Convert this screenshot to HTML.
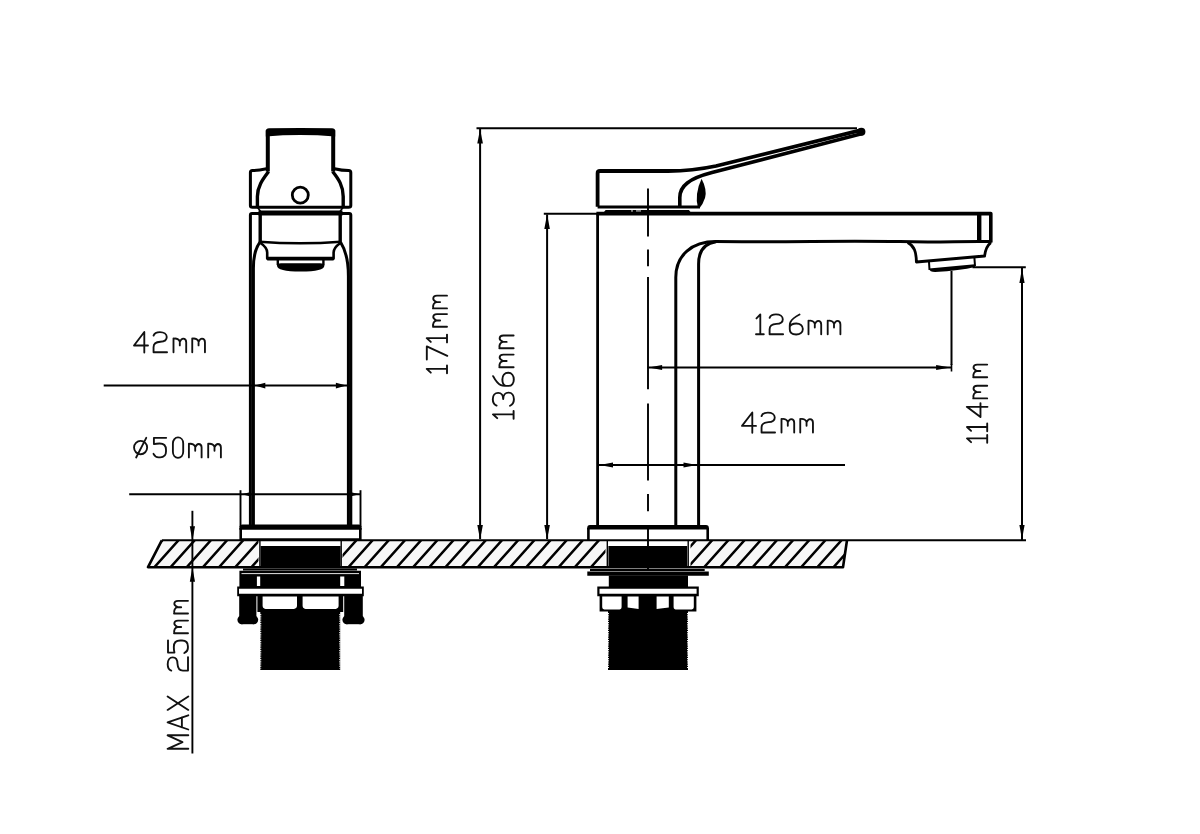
<!DOCTYPE html><html><head><meta charset="utf-8"><style>html,body{margin:0;padding:0;background:#fff;}svg{display:block;}.t path{fill:none;stroke:#111;stroke-width:1.85;stroke-linecap:round;stroke-linejoin:round;}.s{fill:none;stroke:#000;stroke-linecap:butt;stroke-linejoin:round;}.f{fill:#000;stroke:none;}</style></head><body><svg width="1200" height="834" viewBox="0 0 1200 834"><rect width="1200" height="834" fill="#fff"/><defs><clipPath id="cc"><path d="M161.8,540.3 L847,540.3 L843,567.2 L148,567.2 Z M258.5,540.3 L258.5,567.2 L342.5,567.2 L342.5,540.3 Z M605.5,540.3 L605.5,567.2 L690.5,567.2 L690.5,540.3 Z" clip-rule="evenodd"/></clipPath></defs><path fill="#f7f7f7" clip-path="url(#cc)" d="M161.8,540.3 L847,540.3 L843,567.2 L148,567.2 Z"/><path class="s" stroke-width="2.5" clip-path="url(#cc)" d="M135.81,569.90 L164.73,537.60 M151.98,569.90 L180.90,537.60 M168.15,569.90 L197.07,537.60 M184.32,569.90 L213.24,537.60 M200.49,569.90 L229.41,537.60 M216.66,569.90 L245.58,537.60 M232.83,569.90 L261.75,537.60 M249.00,569.90 L277.92,537.60 M265.17,569.90 L294.09,537.60 M281.34,569.90 L310.26,537.60 M297.51,569.90 L326.43,537.60 M313.68,569.90 L342.60,537.60 M329.85,569.90 L358.77,537.60 M346.02,569.90 L374.94,537.60 M362.19,569.90 L391.11,537.60 M378.36,569.90 L407.28,537.60 M394.53,569.90 L423.45,537.60 M410.70,569.90 L439.62,537.60 M426.87,569.90 L455.79,537.60 M443.04,569.90 L471.96,537.60 M459.21,569.90 L488.13,537.60 M475.38,569.90 L504.30,537.60 M491.55,569.90 L520.47,537.60 M507.72,569.90 L536.64,537.60 M523.89,569.90 L552.81,537.60 M540.06,569.90 L568.98,537.60 M556.23,569.90 L585.15,537.60 M572.40,569.90 L601.32,537.60 M588.57,569.90 L617.49,537.60 M604.74,569.90 L633.66,537.60 M620.91,569.90 L649.83,537.60 M637.08,569.90 L666.00,537.60 M653.25,569.90 L682.17,537.60 M669.42,569.90 L698.34,537.60 M685.59,569.90 L714.51,537.60 M701.76,569.90 L730.68,537.60 M717.93,569.90 L746.85,537.60 M734.10,569.90 L763.02,537.60 M750.27,569.90 L779.19,537.60 M766.44,569.90 L795.36,537.60 M782.61,569.90 L811.53,537.60 M798.78,569.90 L827.70,537.60 M814.95,569.90 L843.87,537.60 M831.12,569.90 L860.04,537.60 M847.29,569.90 L876.21,537.60 M863.46,569.90 L892.38,537.60"/><path class="s" stroke-width="2.6"  d="M161.8,540.3 L148,567.2 L843,567.2 L847,540.3"/><path class="s" stroke-width="2.0" d="M161.8,540.3 L1026,540.3"/><g><path class="f" d="M265.8,131 Q266,128.3 269,128.3 Q300,127.6 332,128.3 Q335.2,128.3 335.2,131 L335.2,136.4 Q300,133.8 265.8,136.4 Z"/><path class="s" stroke-width="4.0"  d="M267.8,130 V171.5"/><path class="s" stroke-width="4.0"  d="M333.2,130 V171.5"/><path class="s" stroke-width="3.0"  d="M266.5,168.8 Q258,170.6 252.5,170.6 Q250.4,170.6 250.4,172.6 V205.5 Q250.4,207.2 252.5,207.2 H348.5 Q350.8,207.2 350.8,205.5 V172.6 Q350.8,170.6 348.6,170.6 Q342,170.6 334.5,168.8"/><path class="s" stroke-width="3.4"  d="M268.6,171.5 C263,179 257.4,186 257.4,196.5 V207"/><path class="s" stroke-width="3.4"  d="M332.6,171.5 C338.6,179 343.2,186 343.2,196.5 V207"/><circle cx="300.3" cy="195.1" r="8" fill="none" stroke="#000" stroke-width="2.8"/><path class="f" d="M258.5,210.6 H342.5 V215.4 H258.5 Z"/><path class="s" stroke-width="1.6"  d="M257.6,207.5 L260.6,211.5"/><path class="s" stroke-width="1.6"  d="M343,207.5 L340,211.5"/><path class="s" stroke-width="3.0"  d="M250.4,525 V215 Q250.4,213.4 252,213.4 H259"/><path class="s" stroke-width="3.0"  d="M350.8,525 V215 Q350.8,213.4 349.2,213.4 H342"/><path class="s" stroke-width="3.4"  d="M260.2,212 V242.5"/><path class="s" stroke-width="3.4"  d="M340.2,212 V242.5"/><path class="s" stroke-width="3.0"  d="M259.8,242.3 C255,249 253.4,256 253.4,268 V525"/><path class="s" stroke-width="3.0"  d="M340.6,242.3 C345.5,250 348.4,260 348.4,276 V525"/><path class="s" stroke-width="2.6"  d="M259.5,241.8 Q300,244.8 341,241.8"/><path class="s" stroke-width="2.6"  d="M260.5,243 C265,246 267.2,248.5 267.2,252.5 V258.6 H333.6 V252.5 C333.6,248.5 336,246 340.4,243"/><path class="s" stroke-width="3.8"  d="M267.2,258.6 H333.6"/><path class="s" stroke-width="2.4"  d="M277.8,259.8 V265 M323.4,259.8 V265"/><path class="f" d="M277,265.5 Q277,263.2 281,263.2 H320 Q324.4,263.2 324.4,265.5 Q324.4,271.6 300.7,271.6 Q277,271.6 277,265.5 Z"/><path class="f" d="M239.4,527.5 Q239.4,524.6 242.5,524.6 H358.6 Q361.6,524.6 361.6,527.5 V529.8 H239.4 Z"/><path class="s" stroke-width="2.6"  d="M240.7,528 V540.5 M360.3,528 V540.5"/><path class="s" stroke-width="2.2" d="M240,539.4 L361,539.4"/><path class="s" stroke-width="1.4"  d="M259.9,541 V567.5 M341.2,541 V567.5"/><path class="f" d="M260.6,546 H340.6 V567.5 H260.6 Z"/><path class="s" stroke-width="2.0"  d="M243,569.6 H357"/><path class="f" d="M239.4,570.8 H361 V587.5 H239.4 Z"/><path class="s" style="stroke:#fff" stroke-width="0.9" d="M241.5,573.6 L359,573.6"/><path fill="#fff" d="M256.9,576.6 H260.2 V586 H256.9 Z M340.2,576.6 H344.3 V586 H340.2 Z"/><path class="f" d="M237.2,586.6 H363.8 V596.2 H237.2 Z"/><path fill="#fff" d="M239,588.8 H362 V593.8 H239 Z"/><path class="f" d="M239.2,596 H256.4 V620 H239.2 Z"/><circle cx="241.79999999999998" cy="619.8" r="4.4" fill="#000"/><circle cx="253.79999999999998" cy="619.8" r="4.4" fill="#000"/><path class="f" d="M241.2,616.5 H254.39999999999998 V624.2 H241.2 Z"/><path class="f" d="M344.2,596 H362.8 V620 H344.2 Z"/><circle cx="346.8" cy="619.8" r="4.4" fill="#000"/><circle cx="360.2" cy="619.8" r="4.4" fill="#000"/><path class="f" d="M346.2,616.5 H360.8 V624.2 H346.2 Z"/><path class="f" d="M257.4,596 H343.2 V612 H257.4 Z"/><path fill="#fff" d="M262.6,596.4 H297 V606 Q297,609.4 290,609.4 H269 Q262.6,609.4 262.6,606 Z M302.6,596.4 H338.6 V606 Q338.6,609.4 332,609.4 H309 Q302.6,609.4 302.6,606 Z"/><path class="f" d="M260.3,609 H340.2 V670 H260.3 Z"/><path fill="none" stroke="#fff" stroke-width="1.1" stroke-dasharray="0.9 0.9" d="M260.7,614 V668.6 M339.8,614 V668.6"/></g><path class="s" stroke-width="2.0" d="M103.7,385.6 L350,385.6"/><path class="f" d="M254.80,385.60 L265.30,382.80 L265.30,388.40 Z"/><path class="f" d="M346.40,385.60 L335.90,388.40 L335.90,382.80 Z"/><path class="s" stroke-width="1.9" d="M129.2,494.2 L360.6,494.2"/><path class="s" stroke-width="1.9" d="M240.5,490.2 L240.5,527"/><path class="s" stroke-width="1.9" d="M360.5,490.2 L360.5,527"/><path class="f" d="M241.50,494.20 L250.00,492.20 L250.00,496.20 Z"/><path class="f" d="M359.50,494.20 L351.00,496.20 L351.00,492.20 Z"/><path class="s" stroke-width="1.9" d="M192.4,510.8 L192.4,753.5"/><path class="f" d="M192.40,540.80 L189.80,526.30 L195.00,526.30 Z"/><path class="f" d="M192.40,567.20 L195.00,581.70 L189.80,581.70 Z"/><g><path class="s" stroke-width="3.8"  d="M597.6,206.8 V173.2 Q597.6,171 600,171 H668 C688,171 700,169.4 716,166 L860,130.4"/><path class="s" stroke-width="3.6"  d="M679.8,206.8 V197.5 C679.8,186 689,178.6 712,172.6 L862.4,133.4"/><circle cx="861.4" cy="131.8" r="4" fill="#000"/><path class="f" d="M701.6,178.8 Q707.4,190 705,198 Q703,204 699.6,208 L697.8,207 Q696.2,201 697,194 Q698,186 701.6,178.8 Z"/><path class="s" stroke-width="3.0"  d="M597.6,207 H700"/><path class="f" d="M603.6,212.4 L605.6,210.1 H689 L690.8,212.4 Z"/><path fill="#fff" d="M631,210.4 H633 V211.6 H631 Z M636,210.4 H641 V211.6 H636 Z"/><path class="s" stroke-width="2.0" d="M543.8,213.7 L597,213.7"/><path class="s" stroke-width="3.6"  d="M596.4,213.6 H990.8 V242.4"/><path class="s" stroke-width="4.4"  d="M979.2,214.8 V240.2"/><path class="s" stroke-width="3.0"  d="M715.4,241.6 C800,242 850,240.5 900,241.6 C940,242.8 960,241 991.6,241.6"/><path class="s" stroke-width="2.8"  d="M597.6,213 V525.5"/><path class="s" stroke-width="3.0"  d="M675.8,525.5 V277.5 C675.8,255 692,241.6 716,241.6"/><path class="s" stroke-width="3.0"  d="M698.6,525.5 V264 C698.6,251 704,243.5 716,241.8"/><path class="s" stroke-width="2.8"  d="M907.6,242.6 C914.4,246 916.2,252 916.4,262 L984.6,256 C985.2,250 986.6,246 990.8,242.6"/><path class="s" stroke-width="2.0"  d="M929,262 L929.5,270 M974.4,257.6 L975,266"/><path class="f" d="M929,268.5 L974.8,264.2 L975,267 Q960,270.6 935,272 Q929.6,272 929,268.5 Z"/><path class="f" d="M587.2,528 Q587.2,525 590,525 H706 Q708.9,525 708.9,528 V529.6 H587.2 Z"/><path class="s" stroke-width="2.6"  d="M588.4,528 V540.5 M707.7,528 V540.5"/><path class="s" stroke-width="1.4"  d="M607.3,541 V567.5 M688.2,541 V567.5"/><path class="f" d="M608.4,546 H687.2 V567.5 H608.4 Z"/><path class="s" stroke-width="2.0"  d="M590,569.9 H704.7"/><path class="f" d="M587.3,571.6 H708.8 V575.8 H587.3 Z"/><path class="f" d="M608.8,575.5 H688 V587 H608.8 Z"/><path class="f" d="M597.3,586.5 H698.8 V596.2 H597.3 Z"/><path fill="#fff" d="M599.5,588.7 H696.6 V593.7 H599.5 Z"/><path class="f" d="M599.6,596 H696.4 V611.6 H599.6 Z"/><path fill="#fff" d="M602.2,596.6 H621.6 V607 Q621.6,609.6 618,609.6 H606 Q602.2,609.6 602.2,607 Z M627.6,596.6 H638.6 V609 L627.6,607.6 Z M656.6,596.6 H668.8 V607.6 L656.6,609 Z M673.6,596.6 H693.8 V607 Q693.8,609.6 690,609.6 H677 Q673.6,609.6 673.6,607 Z"/><path class="f" d="M608,610 H688 V670 H608 Z"/><path fill="none" stroke="#fff" stroke-width="1.1" stroke-dasharray="0.9 0.9" d="M608.4,613 V668.6 M687.6,613 V668.6"/><path class="s" stroke-width="1.9"  d="M648,188.4 V236.4 M648,249.5 V266.3 M648,277.1 V389.2 M648,403.6 V480.5 M648,494.0 V511.3 M648,527.5 V570"/></g><path class="s" stroke-width="2.0" d="M476.5,128.2 L857,128.2"/><path class="s" stroke-width="2.0" d="M480.1,129 L480.1,539"/><path class="f" d="M480.10,129.00 L482.90,143.50 L477.30,143.50 Z"/><path class="f" d="M480.10,539.60 L477.30,525.10 L482.90,525.10 Z"/><path class="s" stroke-width="2.0" d="M547.1,214.5 L547.1,539"/><path class="f" d="M547.10,214.40 L549.90,228.90 L544.30,228.90 Z"/><path class="f" d="M547.10,539.60 L544.30,525.10 L549.90,525.10 Z"/><path class="s" stroke-width="2.0" d="M972.5,267.3 L1025.8,267.3"/><path class="s" stroke-width="2.0" d="M1022,268 L1022,540"/><path class="f" d="M1022.00,268.60 L1024.60,283.10 L1019.40,283.10 Z"/><path class="f" d="M1022.00,539.40 L1019.40,524.90 L1024.60,524.90 Z"/><path class="s" stroke-width="2.0" d="M647.6,367.5 L951.5,367.5"/><path class="s" stroke-width="2.0" d="M951.5,271 L951.5,365"/><path class="s" stroke-width="1.6" d="M951.5,364 L951.5,371.5"/><path class="f" d="M648.60,367.50 L662.10,365.00 L662.10,370.00 Z"/><path class="f" d="M950.60,367.50 L936.10,370.00 L936.10,365.00 Z"/><path class="s" stroke-width="2.0" d="M598.5,465 L845,465"/><path class="f" d="M599.50,465.00 L613.00,462.50 L613.00,467.50 Z"/><path class="f" d="M697.00,465.00 L683.50,467.50 L683.50,462.50 Z"/><g class="t"><path transform="translate(134.00,332.00) scale(1.0,1.01)" d="M10.3,20.3 V0 L0,13.4 H14"/><path transform="translate(152.75,332.00) scale(1.0,1.01)" d="M0.8,3.6 C1.6,1.2 4,0.1 7.2,0.1 C11.2,0.1 14,2 14,5 C14,8 11.5,9.6 7.6,9.7 C3.6,9.9 0.8,11.5 0.8,15 V20 H14.3"/><path transform="translate(173.00,332.00) scale(1.0,1.01)" d="M0.5,20 V6.3 M0.5,6.6 C3.4,5.9 6.7,7.2 6.8,9.9 V13.3 M6.8,9.9 C7.8,7.6 9,6.6 10.2,6.6 C12,6.6 13.2,8 13.2,10.2 V20"/><path transform="translate(191.75,332.00) scale(1.0,1.01)" d="M0.5,20 V6.3 M0.5,6.6 C3.4,5.9 6.7,7.2 6.8,9.9 V13.3 M6.8,9.9 C7.8,7.6 9,6.6 10.2,6.6 C12,6.6 13.2,8 13.2,10.2 V20"/></g><g class="t"><path transform="translate(133.75,437.40) scale(1.0,1.0)" d="M6.85,3.5 C10.5,3.5 13.4,6.4 13.4,10.1 C13.4,13.8 10.5,16.8 6.85,16.8 C3.2,16.8 0.3,13.8 0.3,10.1 C0.3,6.4 3.2,3.5 6.85,3.5 Z M12.5,0.4 L2.4,20.1"/><path transform="translate(153.00,437.40) scale(1.0,1.0)" d="M13.2,0.4 H0.9 V6.7 C2.4,6.3 4.4,6.1 6.6,6.1 C10.6,6.1 13,8.6 13,12.4 V14.2 C13,17.8 10.6,19.9 7.2,19.9 H5.6 C3.4,19.9 1.6,18.6 0.5,16.4"/><path transform="translate(172.20,437.40) scale(1.0,1.0)" d="M0.7,6 C0.7,2.4 3,0 5.8,0 C8.6,0 11,2.4 11,6 V14.4 C11,18 8.6,20.4 5.8,20.4 C3,20.4 0.7,18 0.7,14.4 Z"/><path transform="translate(188.40,437.40) scale(1.0,1.0)" d="M0.5,20 V6.3 M0.5,6.6 C3.4,5.9 6.7,7.2 6.8,9.9 V13.3 M6.8,9.9 C7.8,7.6 9,6.6 10.2,6.6 C12,6.6 13.2,8 13.2,10.2 V20"/><path transform="translate(207.70,437.40) scale(1.0,1.0)" d="M0.5,20 V6.3 M0.5,6.6 C3.4,5.9 6.7,7.2 6.8,9.9 V13.3 M6.8,9.9 C7.8,7.6 9,6.6 10.2,6.6 C12,6.6 13.2,8 13.2,10.2 V20"/></g><g class="t"><path transform="translate(756.00,314.25) scale(1.0,1.0)" d="M0.5,4.2 L4.3,0.2 V20 M0,20 H7.8"/><path transform="translate(768.80,314.25) scale(1.0,1.0)" d="M0.8,3.6 C1.6,1.2 4,0.1 7.2,0.1 C11.2,0.1 14,2 14,5 C14,8 11.5,9.6 7.6,9.7 C3.6,9.9 0.8,11.5 0.8,15 V20 H14.3"/><path transform="translate(789.25,314.25) scale(1.0,1.0)" d="M10.3,0.3 C6,2.5 2.6,5 1.2,7.8 C0.7,8.8 0.5,10 0.5,11.5 V15 C0.5,18.3 3.2,20.2 6.9,20.2 C10.7,20.2 13.6,18.2 13.6,14.8 C13.6,11.4 10.8,9.2 7,9.2 C3.6,9.2 1.2,10.6 0.5,12.5"/><path transform="translate(808.00,314.25) scale(1.0,1.0)" d="M0.5,20 V6.3 M0.5,6.6 C3.4,5.9 6.7,7.2 6.8,9.9 V13.3 M6.8,9.9 C7.8,7.6 9,6.6 10.2,6.6 C12,6.6 13.2,8 13.2,10.2 V20"/><path transform="translate(827.20,314.25) scale(1.0,1.0)" d="M0.5,20 V6.3 M0.5,6.6 C3.4,5.9 6.7,7.2 6.8,9.9 V13.3 M6.8,9.9 C7.8,7.6 9,6.6 10.2,6.6 C12,6.6 13.2,8 13.2,10.2 V20"/></g><g class="t"><path transform="translate(742.00,412.50) scale(1.0,1.0)" d="M10.3,20.3 V0 L0,13.4 H14"/><path transform="translate(760.75,412.50) scale(1.0,1.0)" d="M0.8,3.6 C1.6,1.2 4,0.1 7.2,0.1 C11.2,0.1 14,2 14,5 C14,8 11.5,9.6 7.6,9.7 C3.6,9.9 0.8,11.5 0.8,15 V20 H14.3"/><path transform="translate(781.00,412.50) scale(1.0,1.0)" d="M0.5,20 V6.3 M0.5,6.6 C3.4,5.9 6.7,7.2 6.8,9.9 V13.3 M6.8,9.9 C7.8,7.6 9,6.6 10.2,6.6 C12,6.6 13.2,8 13.2,10.2 V20"/><path transform="translate(799.75,412.50) scale(1.0,1.0)" d="M0.5,20 V6.3 M0.5,6.6 C3.4,5.9 6.7,7.2 6.8,9.9 V13.3 M6.8,9.9 C7.8,7.6 9,6.6 10.2,6.6 C12,6.6 13.2,8 13.2,10.2 V20"/></g><g class="t"><path transform="translate(426.50,373.20) rotate(-90) scale(1,1.025)" d="M0.5,4.2 L4.3,0.2 V20 M0,20 H7.8"/><path transform="translate(426.50,360.00) rotate(-90) scale(1,1.025)" d="M0.4,0.3 H13.6 L4.2,20.3"/><path transform="translate(426.50,342.40) rotate(-90) scale(1,1.025)" d="M0.5,4.2 L4.3,0.2 V20 M0,20 H7.8"/><path transform="translate(426.50,327.30) rotate(-90) scale(1,1.025)" d="M0.5,20 V6.3 M0.5,6.6 C3.4,5.9 6.7,7.2 6.8,9.9 V13.3 M6.8,9.9 C7.8,7.6 9,6.6 10.2,6.6 C12,6.6 13.2,8 13.2,10.2 V20"/><path transform="translate(426.50,308.90) rotate(-90) scale(1,1.025)" d="M0.5,20 V6.3 M0.5,6.6 C3.4,5.9 6.7,7.2 6.8,9.9 V13.3 M6.8,9.9 C7.8,7.6 9,6.6 10.2,6.6 C12,6.6 13.2,8 13.2,10.2 V20"/></g><g class="t"><path transform="translate(492.80,418.70) rotate(-90) scale(1,1.040)" d="M0.5,4.2 L4.3,0.2 V20 M0,20 H7.8"/><path transform="translate(492.80,406.20) rotate(-90) scale(1,1.040)" d="M0.6,3.6 C1.8,1.2 4.2,0 7,0 C10.6,0 13.3,2.1 13.3,5.2 C13.3,8.2 10.6,10 7.2,10 M7.2,10 C10.9,10 13.6,12.1 13.6,15.2 C13.6,18.3 10.8,20.3 7,20.3 C4.1,20.3 1.8,19 0.5,16.6"/><path transform="translate(492.80,386.40) rotate(-90) scale(1,1.040)" d="M10.3,0.3 C6,2.5 2.6,5 1.2,7.8 C0.7,8.8 0.5,10 0.5,11.5 V15 C0.5,18.3 3.2,20.2 6.9,20.2 C10.7,20.2 13.6,18.2 13.6,14.8 C13.6,11.4 10.8,9.2 7,9.2 C3.6,9.2 1.2,10.6 0.5,12.5"/><path transform="translate(492.80,367.80) rotate(-90) scale(1,1.040)" d="M0.5,20 V6.3 M0.5,6.6 C3.4,5.9 6.7,7.2 6.8,9.9 V13.3 M6.8,9.9 C7.8,7.6 9,6.6 10.2,6.6 C12,6.6 13.2,8 13.2,10.2 V20"/><path transform="translate(492.80,348.70) rotate(-90) scale(1,1.040)" d="M0.5,20 V6.3 M0.5,6.6 C3.4,5.9 6.7,7.2 6.8,9.9 V13.3 M6.8,9.9 C7.8,7.6 9,6.6 10.2,6.6 C12,6.6 13.2,8 13.2,10.2 V20"/></g><g class="t"><path transform="translate(966.80,442.70) rotate(-90) scale(1,1.020)" d="M0.5,4.2 L4.3,0.2 V20 M0,20 H7.8"/><path transform="translate(966.80,431.30) rotate(-90) scale(1,1.020)" d="M0.5,4.2 L4.3,0.2 V20 M0,20 H7.8"/><path transform="translate(966.80,417.10) rotate(-90) scale(1,1.020)" d="M10.3,20.3 V0 L0,13.4 H14"/><path transform="translate(966.80,398.90) rotate(-90) scale(1,1.020)" d="M0.5,20 V6.3 M0.5,6.6 C3.4,5.9 6.7,7.2 6.8,9.9 V13.3 M6.8,9.9 C7.8,7.6 9,6.6 10.2,6.6 C12,6.6 13.2,8 13.2,10.2 V20"/><path transform="translate(966.80,377.80) rotate(-90) scale(1,1.020)" d="M0.5,20 V6.3 M0.5,6.6 C3.4,5.9 6.7,7.2 6.8,9.9 V13.3 M6.8,9.9 C7.8,7.6 9,6.6 10.2,6.6 C12,6.6 13.2,8 13.2,10.2 V20"/></g><g class="t"><path transform="translate(167.60,749.30) rotate(-90) scale(1,1.020)" d="M0.5,20.3 V0 L7.2,14.6 L14,0 V20.3"/><path transform="translate(167.60,729.50) rotate(-90) scale(1,1.020)" d="M0,20.3 L7.1,0 L14.2,20.3 M2.2,14 H12"/><path transform="translate(167.60,710.40) rotate(-90) scale(1,1.020)" d="M0.5,0 L14,20.3 M14,0 L0.5,20.3"/><path transform="translate(167.60,671.40) rotate(-90) scale(1,1.020)" d="M0.8,3.6 C1.6,1.2 4,0.1 7.2,0.1 C11.2,0.1 14,2 14,5 C14,8 11.5,9.6 7.6,9.7 C3.6,9.9 0.8,11.5 0.8,15 V20 H14.3"/><path transform="translate(167.60,653.50) rotate(-90) scale(1,1.020)" d="M13.2,0.4 H0.9 V6.7 C2.4,6.3 4.4,6.1 6.6,6.1 C10.6,6.1 13,8.6 13,12.4 V14.2 C13,17.8 10.6,19.9 7.2,19.9 H5.6 C3.4,19.9 1.6,18.6 0.5,16.4"/><path transform="translate(167.60,633.80) rotate(-90) scale(1,1.020)" d="M0.5,20 V6.3 M0.5,6.6 C3.4,5.9 6.7,7.2 6.8,9.9 V13.3 M6.8,9.9 C7.8,7.6 9,6.6 10.2,6.6 C12,6.6 13.2,8 13.2,10.2 V20"/><path transform="translate(167.60,614.00) rotate(-90) scale(1,1.020)" d="M0.5,20 V6.3 M0.5,6.6 C3.4,5.9 6.7,7.2 6.8,9.9 V13.3 M6.8,9.9 C7.8,7.6 9,6.6 10.2,6.6 C12,6.6 13.2,8 13.2,10.2 V20"/></g></svg></body></html>
